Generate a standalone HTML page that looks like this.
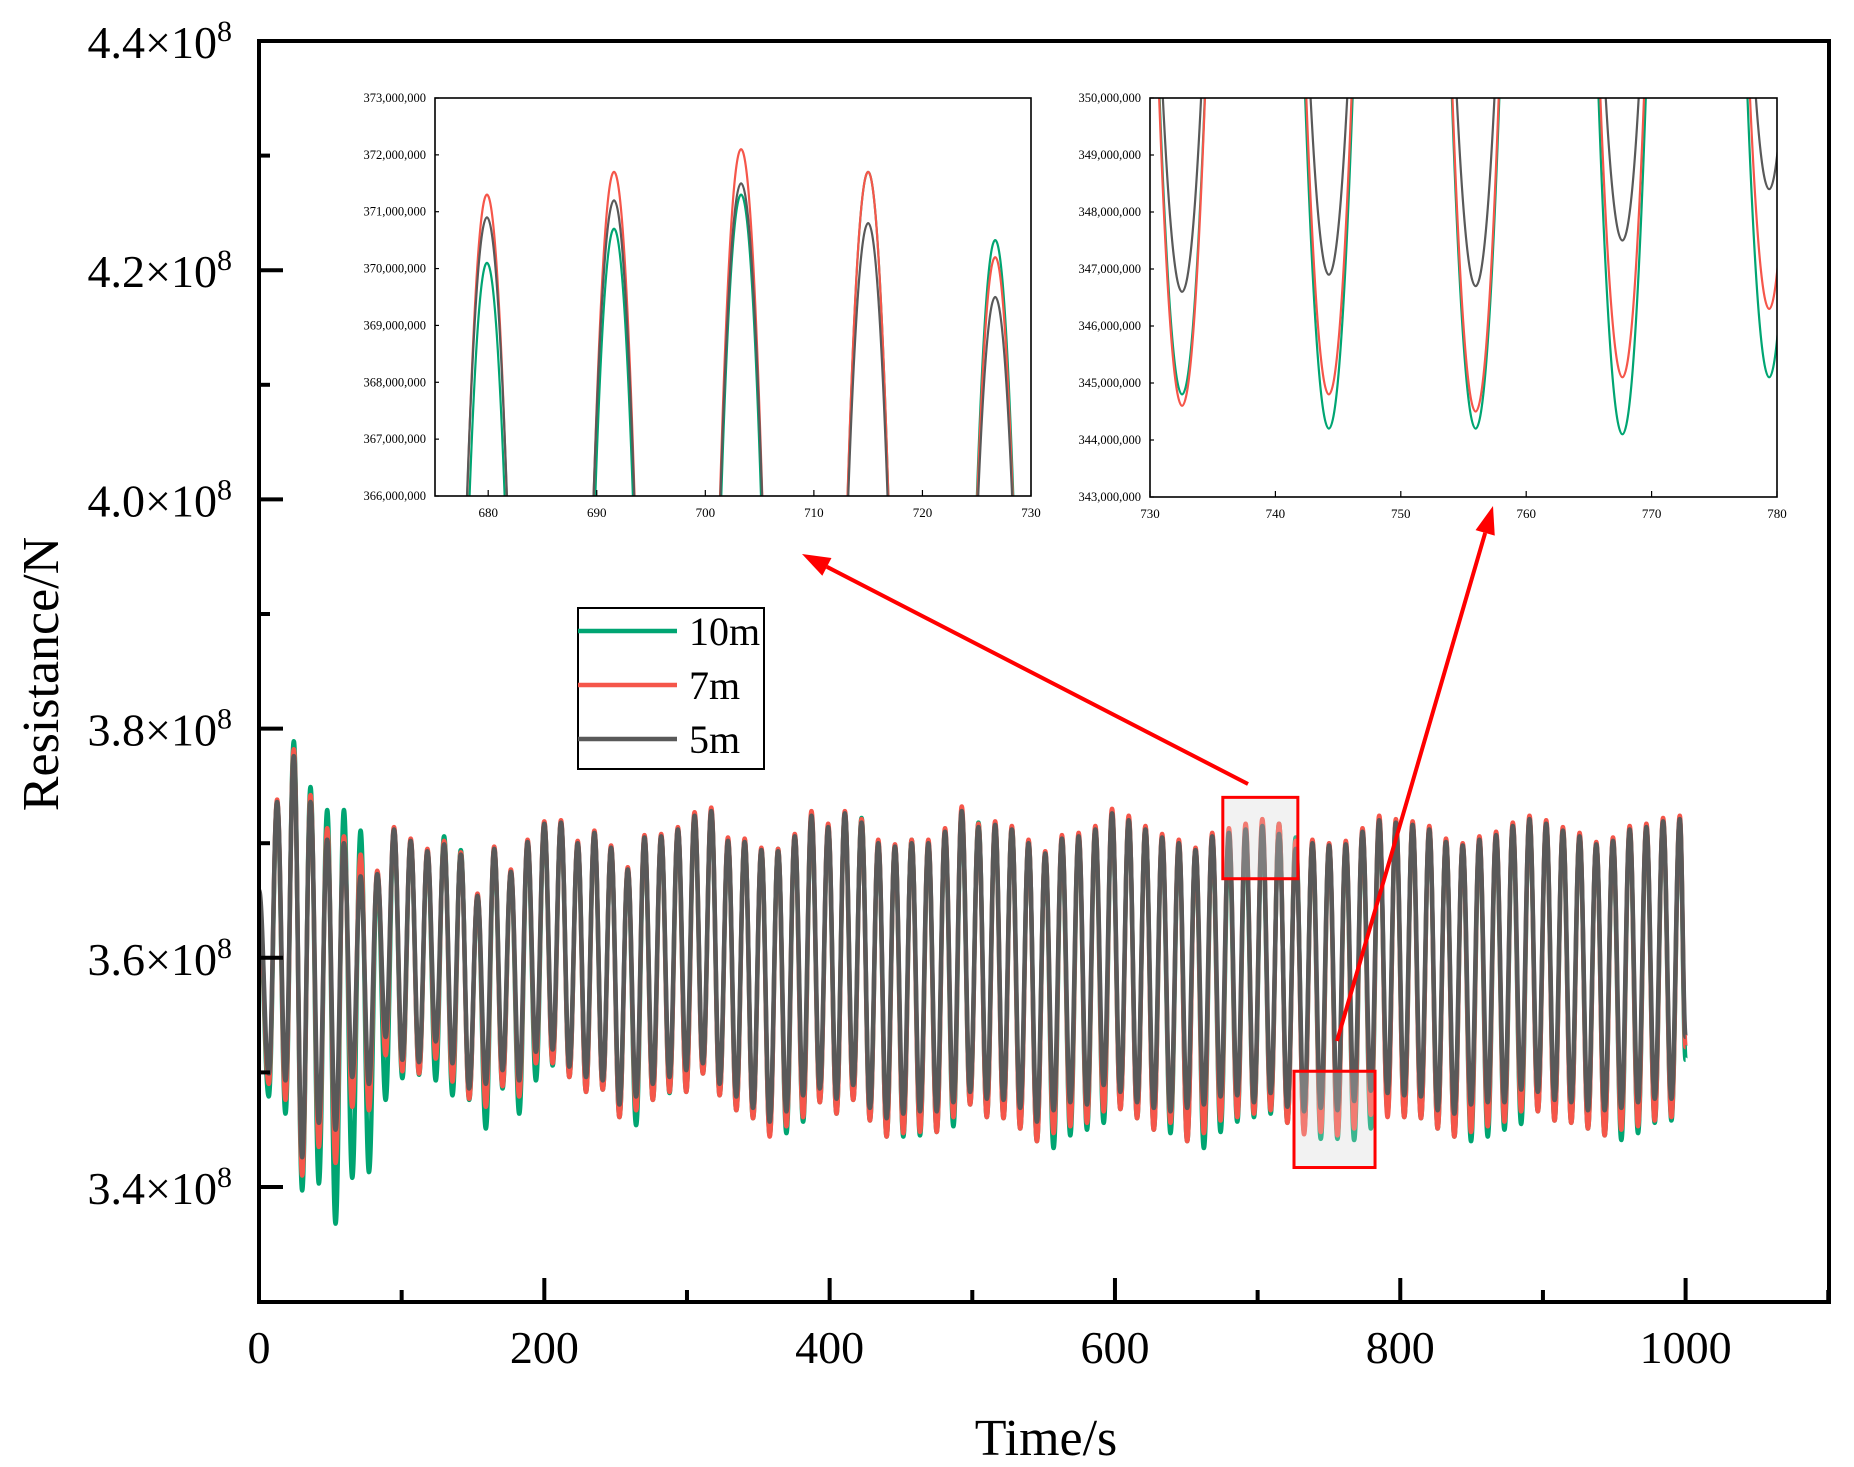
<!DOCTYPE html>
<html><head><meta charset="utf-8"><style>
html,body{margin:0;padding:0;background:#fff;width:1854px;height:1467px;overflow:hidden;}
svg{display:block;font-family:"Liberation Serif",serif;}
</style></head><body>
<svg id="chart" width="1854" height="1467" viewBox="0 0 1854 1467" xmlns="http://www.w3.org/2000/svg">
<defs>
<clipPath id="clipMain"><rect x="259" y="41" width="1570" height="1261"/></clipPath>
<clipPath id="clipIn1"><rect x="435" y="98" width="596" height="398"/></clipPath>
<clipPath id="clipIn2"><rect x="1150" y="98" width="627" height="399"/></clipPath>
</defs>
<g id="zoomBoxesFill"></g>
<g id="mainSeries" clip-path="url(#clipMain)"></g>
<g id="zoomBoxesStroke"></g>
<g id="mainAxes"></g>
<g id="inset1"></g>
<g id="inset2"></g>
<g id="arrows"></g>
<g id="legend"></g>
</svg>
<script>
// ---------- data ----------
const seriesNames = ["10m", "7m", "5m"];
const seriesColors = ["#00a572", "#f5564a", "#595959"];
const periodS = 11.705;
const firstPeakS = 12.7;
const startVals = [3.645, 3.652, 3.659];
const endVals = [3.511, 3.522, 3.531];
const endTime = 1000;

const peaks10m = [3.736,3.789,3.749,3.729,3.729,3.711,3.675,3.712,3.702,3.693,3.706,3.694,3.654,3.695,3.675,3.701,3.717,3.718,3.700,3.709,3.696,3.677,3.705,3.706,3.712,3.724,3.728,3.702,3.703,3.694,3.695,3.706,3.724,3.714,3.726,3.722,3.700,3.697,3.703,3.700,3.710,3.728,3.718,3.716,3.714,3.702,3.691,3.704,3.706,3.712,3.726,3.722,3.714,3.705,3.700,3.694,3.706,3.701,3.707,3.713,3.717,3.705,3.700,3.698,3.699,3.710,3.720,3.718,3.716,3.712,3.703,3.698,3.703,3.707,3.715,3.721,3.717,3.711,3.706,3.699,3.702,3.712,3.714,3.719,3.721];
const peaks7m = [3.738,3.782,3.742,3.713,3.706,3.690,3.676,3.714,3.704,3.695,3.702,3.692,3.656,3.697,3.677,3.703,3.719,3.720,3.702,3.711,3.698,3.679,3.707,3.708,3.714,3.727,3.731,3.705,3.704,3.696,3.695,3.708,3.728,3.717,3.728,3.721,3.703,3.699,3.703,3.703,3.713,3.732,3.717,3.719,3.715,3.703,3.693,3.707,3.709,3.715,3.730,3.724,3.715,3.708,3.703,3.696,3.709,3.713,3.717,3.721,3.717,3.702,3.703,3.700,3.702,3.713,3.724,3.721,3.719,3.715,3.704,3.700,3.706,3.710,3.718,3.724,3.720,3.714,3.709,3.701,3.705,3.715,3.717,3.722,3.724];
const peaks5m = [3.736,3.776,3.736,3.703,3.700,3.671,3.673,3.712,3.702,3.693,3.699,3.690,3.654,3.695,3.675,3.701,3.717,3.718,3.700,3.709,3.696,3.677,3.705,3.706,3.712,3.724,3.728,3.702,3.701,3.694,3.693,3.706,3.724,3.714,3.726,3.718,3.700,3.697,3.700,3.700,3.710,3.728,3.714,3.716,3.712,3.700,3.691,3.704,3.706,3.712,3.726,3.720,3.712,3.705,3.700,3.694,3.706,3.709,3.712,3.715,3.708,3.695,3.700,3.698,3.699,3.710,3.720,3.718,3.716,3.712,3.701,3.698,3.703,3.707,3.715,3.721,3.717,3.711,3.706,3.699,3.702,3.712,3.714,3.719,3.721];

const troughs10m = [3.479,3.464,3.397,3.403,3.368,3.408,3.413,3.476,3.495,3.498,3.493,3.480,3.476,3.451,3.486,3.464,3.493,3.506,3.496,3.483,3.485,3.461,3.454,3.476,3.482,3.483,3.499,3.480,3.467,3.460,3.445,3.447,3.457,3.474,3.464,3.476,3.458,3.444,3.444,3.445,3.448,3.453,3.472,3.461,3.460,3.451,3.440,3.434,3.445,3.450,3.456,3.468,3.460,3.450,3.447,3.440,3.434,3.448,3.457,3.461,3.464,3.456,3.448,3.442,3.442,3.441,3.451,3.464,3.461,3.460,3.451,3.444,3.440,3.444,3.450,3.455,3.466,3.458,3.456,3.451,3.445,3.441,3.447,3.456,3.458];
const troughs7m = [3.490,3.476,3.410,3.435,3.421,3.470,3.467,3.515,3.501,3.499,3.512,3.492,3.477,3.470,3.488,3.479,3.508,3.508,3.496,3.483,3.485,3.461,3.467,3.476,3.483,3.483,3.499,3.480,3.467,3.460,3.444,3.453,3.461,3.474,3.464,3.476,3.458,3.444,3.447,3.448,3.448,3.461,3.472,3.461,3.460,3.451,3.440,3.447,3.453,3.456,3.466,3.468,3.460,3.450,3.456,3.440,3.447,3.458,3.461,3.464,3.467,3.456,3.446,3.448,3.445,3.451,3.463,3.461,3.461,3.460,3.451,3.444,3.448,3.453,3.457,3.466,3.466,3.458,3.456,3.451,3.445,3.450,3.453,3.458,3.461];
const troughs5m = [3.499,3.493,3.426,3.456,3.450,3.496,3.490,3.531,3.511,3.509,3.527,3.508,3.486,3.490,3.502,3.493,3.518,3.520,3.505,3.496,3.493,3.472,3.479,3.490,3.496,3.502,3.508,3.490,3.479,3.469,3.457,3.466,3.480,3.486,3.477,3.489,3.469,3.460,3.464,3.466,3.466,3.474,3.483,3.477,3.476,3.469,3.457,3.467,3.474,3.472,3.489,3.483,3.474,3.469,3.466,3.469,3.472,3.479,3.480,3.474,3.482,3.470,3.466,3.469,3.467,3.475,3.484,3.482,3.480,3.479,3.467,3.464,3.472,3.474,3.474,3.485,3.483,3.476,3.474,3.467,3.467,3.469,3.474,3.477,3.477];

const xTickLabels = ["0","200","400","600","800","1000"];
const yTickLabels = ["3.4","3.6","3.8","4.0","4.2","4.4"];
const inset1XTicks = [680,690,700,710,720,730];
const inset1YTicks = [366,367,368,369,370,371,372,373];
const inset2XTicks = [730,740,750,760,770,780];
const inset2YTicks = [343,344,345,346,347,348,349,350];
// zoom regions [t0, t1, vLow, vHigh] in main-axis units
const zoomRegion1 = [675.6, 728.2, 3.669, 3.740];
const zoomRegion2 = [725.5, 782.3, 3.417, 3.501];

// ---------- helpers ----------
const NS = "http://www.w3.org/2000/svg";
function mk(tag, attrs, parent){ const e=document.createElementNS(NS,tag); for(const k in attrs) e.setAttribute(k,attrs[k]); if(parent) parent.appendChild(e); return e; }
const peakSets = [peaks10m, peaks7m, peaks5m];
const troughSets = [troughs10m, troughs7m, troughs5m];

function seriesPoints(i){
  const pts=[[0,startVals[i]]];
  const pk=peakSets[i], tr=troughSets[i];
  for(let k=0;k<pk.length;k++){
    const tp=firstPeakS+k*periodS;
    pts.push([tp-periodS/2, tr[k]]);
    pts.push([tp, pk[k]]);
  }
  pts.push([endTime, endVals[i]]);
  return pts;
}
function pathFrom(pts, X, Y){
  let d="M"+X(pts[0][0]).toFixed(2)+","+Y(pts[0][1]).toFixed(2);
  for(let j=1;j<pts.length;j++){
    const x0=X(pts[j-1][0]), y0=Y(pts[j-1][1]), x1=X(pts[j][0]), y1=Y(pts[j][1]);
    const dx=(x1-x0)*0.4;
    d+=" C"+(x0+dx).toFixed(2)+","+y0.toFixed(2)+" "+(x1-dx).toFixed(2)+","+y1.toFixed(2)+" "+x1.toFixed(2)+","+y1.toFixed(2);
  }
  return d;
}

// ---------- main axes ----------
const X = t => 259 + t*1.4266;
const Y = v => 41 + (4.4 - v)*1146;

const zf=document.getElementById("zoomBoxesFill");
[zoomRegion1, zoomRegion2].forEach((r,i)=>{
  const el=mk("rect",{x:X(r[0]),y:Y(r[3]),width:X(r[1])-X(r[0]),height:Y(r[2])-Y(r[3]),fill:"#f4f4f4"},zf);
  
  
});

const ms=document.getElementById("mainSeries");
for(let i=0;i<3;i++){
  const p=mk("path",{d:pathFrom(seriesPoints(i),X,Y),fill:"none",stroke:seriesColors[i],"stroke-width":4.5,"stroke-linejoin":"round"},ms);
  
  
}

const zs=document.getElementById("zoomBoxesStroke");
[zoomRegion1, zoomRegion2].forEach((r,i)=>{
  const el=mk("rect",{x:X(r[0]),y:Y(r[3]),width:X(r[1])-X(r[0]),height:Y(r[2])-Y(r[3]),fill:"rgba(235,235,235,0.25)",stroke:"#ff0000","stroke-width":3},zs);
  
  
});

const ax=document.getElementById("mainAxes");
const frame=mk("rect",{x:259,y:41,width:1570,height:1261,fill:"none",stroke:"#000","stroke-width":4},ax);


for(let t=0;t<=1100;t+=100){
  const major = t%200===0;
  const tk=mk("line",{x1:X(t),x2:X(t),y1:1302,y2:1302-(major?24:12),stroke:"#000","stroke-width":4},ax);
  
  
}
xTickLabels.forEach(s=>{
  const tx=mk("text",{x:X(+s),y:1363,"font-size":46,"text-anchor":"middle",fill:"#000"},ax);
  tx.textContent=s;
  
  
});
for(let m=33;m<=44;m++){
  const v=m/10;
  if(v<3.35) continue;
  const major = m%2===0;
  const tk=mk("line",{x1:259,x2:259+(major?24:11),y1:Y(v),y2:Y(v),stroke:"#000","stroke-width":4},ax);
  
  
}
yTickLabels.forEach(s=>{
  const tx=mk("text",{x:232,y:Y(+s)+17,"font-size":46,"text-anchor":"end",fill:"#000"},ax);
  
  
  const a=mk("tspan",{},tx); a.textContent=s+"\u00d710";
  const b=mk("tspan",{dy:-17,"font-size":30},tx); b.textContent="8";
});
const xt=mk("text",{x:1046,y:1455,"font-size":52,"text-anchor":"middle",fill:"#000"},ax);
xt.textContent="Time/s";


const yt=mk("text",{x:0,y:0,"font-size":52,"text-anchor":"middle",fill:"#000",transform:"translate(58,674) rotate(-90)"},ax);
yt.textContent="Resistance/N";



// ---------- insets ----------
function drawInset(gid, clipId, L, R, T, B, xMin, xMax, yTicks, xTicks, name){
  const g=document.getElementById(gid);
  
  
  const yMin=yTicks[0], yMax=yTicks[yTicks.length-1];
  const IX = t => L + (t-xMin)/(xMax-xMin)*(R-L);
  const IY = v => B - (v*100 - yMin)/(yMax-yMin)*(B-T);
  mk("rect",{x:L,y:T,width:R-L,height:B-T,fill:"#fff"},g);
  const sg=mk("g",{"clip-path":"url(#"+clipId+")"},g);
  for(let i=0;i<3;i++){
    const p=mk("path",{d:pathFrom(seriesPoints(i),IX,IY),fill:"none",stroke:seriesColors[i],"stroke-width":2.2},sg);
    
    
  }
  const fr=mk("rect",{x:L,y:T,width:R-L,height:B-T,fill:"none",stroke:"#000","stroke-width":1.6},g);
  
  
  yTicks.forEach(v=>{
    const y=B-(v-yMin)/(yMax-yMin)*(B-T);
    mk("line",{x1:L,x2:L+4,y1:y,y2:y,stroke:"#000","stroke-width":1.2},g);
    const tx=mk("text",{x:L-9,y:y+4,"font-size":12.5,"text-anchor":"end",fill:"#000"},g);
    tx.textContent=v+",000,000";
    
    
  });
  xTicks.forEach(t=>{
    const x=IX(t);
    mk("line",{x1:x,x2:x,y1:B,y2:B-6,stroke:"#000","stroke-width":1.2},g);
    const tx=mk("text",{x:x,y:B+21,"font-size":13,"text-anchor":"middle",fill:"#000"},g);
    tx.textContent=String(t);
    
    
  });
}
drawInset("inset1","clipIn1",435,1031,98,496,675.1,730,inset1YTicks,inset1XTicks,"inset-peaks");
drawInset("inset2","clipIn2",1150,1777,98,497,730,780,inset2YTicks,inset2XTicks,"inset-troughs");

// ---------- arrows ----------
const ag=document.getElementById("arrows");
function arrow(x1,y1,x2,y2,name){
  const g=mk("g",{},ag);
  
  
  const dx=x2-x1, dy=y2-y1, len=Math.hypot(dx,dy), ux=dx/len, uy=dy/len;
  const hl=28, hw=10;
  const bx=x2-ux*hl, by=y2-uy*hl;
  mk("line",{x1:x1,y1:y1,x2:bx,y2:by,stroke:"#ff0000","stroke-width":4},g);
  mk("polygon",{points:`${x2},${y2} ${bx-uy*hw},${by+ux*hw} ${bx+uy*hw},${by-ux*hw}`,fill:"#ff0000"},g);
}
arrow(1248,784,802,554,"arrow-to-peak-inset");
arrow(1337,1041,1493,506,"arrow-to-trough-inset");

// ---------- legend ----------
const lg=document.getElementById("legend");


mk("rect",{x:578,y:608,width:186,height:161,fill:"#fff",stroke:"#000","stroke-width":2},lg);
[631,685,739].forEach((y,i)=>{
  const g=mk("g",{},lg);
  
  
  mk("line",{x1:578,x2:677,y1:y,y2:y,stroke:seriesColors[i],"stroke-width":4.5},g);
  const tx=mk("text",{x:689,y:y+14,"font-size":40,fill:"#000"},g);
  tx.textContent=seriesNames[i];
});
</script>
</body></html>
